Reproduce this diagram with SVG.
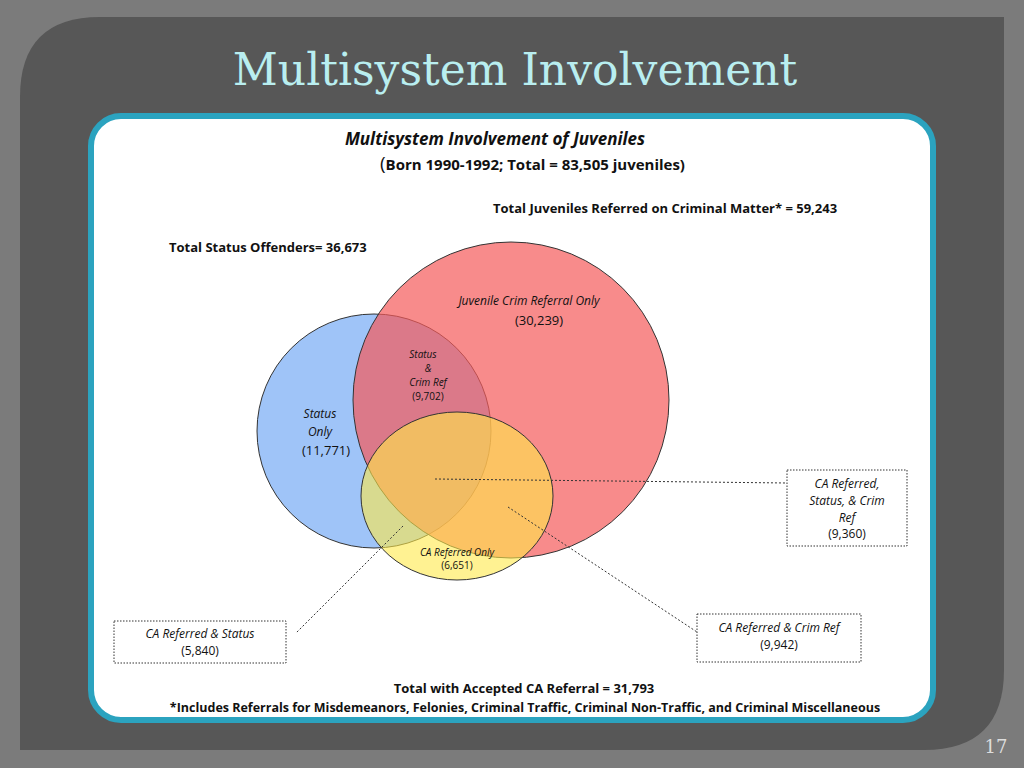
<svg xmlns="http://www.w3.org/2000/svg" width="1024" height="768" viewBox="0 0 1024 768">
<style>
text{font-family:"Open Sans","Liberation Sans",sans-serif;fill:#111}
.b{font-weight:bold;font-size:13px}
.i{font-style:italic;font-size:12px}
.s{font-style:italic;font-size:10px}
.n{font-size:13px}
.box{fill:#fff;stroke:#333;stroke-dasharray:1.5 1.5;stroke-width:1}
.c{fill:none;stroke:#333;stroke-dasharray:2 2;stroke-width:1}
</style>
<rect width="1024" height="768" fill="#7b7b7b"/>
<path d="M100 17 H1004 V670 Q1004 750 924 750 H20 V97 Q20 17 100 17Z" fill="#575757"/>
<text x="515" y="85" text-anchor="middle" style="font-family:'DejaVu Serif','Liberation Serif',serif;font-size:44px;fill:#b9eef0">Multisystem Involvement</text>
<rect x="91" y="116" width="842" height="604" rx="30" fill="#fff" stroke="#2ba3bf" stroke-width="6"/>
<text x="495" y="145" text-anchor="middle" style="font-weight:bold;font-style:italic;font-size:17px">Multisystem Involvement of Juveniles</text>
<text x="380" y="170" style="font-weight:bold;font-size:15px"><tspan style="font-size:19px;font-weight:normal">(</tspan>Born 1990-1992; Total = 83,505 juveniles)</text>
<text x="493" y="213" class="b">Total Juveniles Referred  on Criminal Matter*  = 59,243</text>
<text x="169" y="252" class="b">Total Status Offenders= 36,673</text>
<g id="blue"><circle cx="374" cy="431" r="117" fill="#7fb0f5" fill-opacity="0.75" stroke="#333"/></g>
<g id="red"><ellipse cx="511" cy="400" rx="158" ry="158" fill="#f55a5a" fill-opacity="0.7" stroke="#333"/></g>
<g id="yellow"><ellipse cx="457" cy="496" rx="96" ry="84" fill="#ffe94a" fill-opacity="0.6" stroke="#333"/></g>
<g id="labels">
<text x="529" y="305" text-anchor="middle" class="i">Juvenile Crim Referral Only</text>
<text x="539" y="325" text-anchor="middle" class="n">(30,239)</text>
<text x="423" y="358" text-anchor="middle" class="s">Status</text>
<text x="428" y="372" text-anchor="middle" class="s">&amp;</text>
<text x="428" y="386" text-anchor="middle" class="s">Crim Ref</text>
<text x="428" y="400" text-anchor="middle" style="font-size:10px">(9,702)</text>
<text x="320" y="418" text-anchor="middle" class="i">Status</text>
<text x="320" y="436" text-anchor="middle" class="i">Only</text>
<text x="326" y="455" text-anchor="middle" class="n">(11,771)</text>
<text x="457" y="556" text-anchor="middle" class="s">CA Referred Only</text>
<text x="457" y="569" text-anchor="middle" style="font-size:10px">(6,651)</text>
</g>
<g id="connectors">
<line class="c" x1="435" y1="479" x2="787" y2="483"/>
<line class="c" x1="403" y1="526" x2="296" y2="633"/>
<line class="c" x1="508" y1="507" x2="697" y2="632"/>
</g>
<g id="box1"><rect class="box" x="787" y="470" width="120" height="76"/>
<text x="847" y="488" text-anchor="middle" class="i">CA Referred,</text>
<text x="847" y="505" text-anchor="middle" class="i">Status, &amp; Crim</text>
<text x="847" y="522" text-anchor="middle" class="i">Ref</text>
<text x="847" y="538" text-anchor="middle" style="font-size:12px">(9,360)</text></g>
<g id="box2"><rect class="box" x="114" y="621" width="172" height="42"/>
<text x="200" y="638" text-anchor="middle" class="i">CA Referred &amp; Status</text>
<text x="200" y="655" text-anchor="middle" style="font-size:12px">(5,840)</text></g>
<g id="box3"><rect class="box" x="697" y="614" width="164" height="48"/>
<text x="779" y="632" text-anchor="middle" class="i">CA Referred &amp; Crim Ref</text>
<text x="779" y="649" text-anchor="middle" style="font-size:12px">(9,942)</text></g>
<text x="524" y="693" text-anchor="middle" class="b">Total with Accepted  CA Referral  = 31,793</text>
<text x="525" y="712" text-anchor="middle" style="font-weight:bold;font-size:12.5px">*Includes Referrals for Misdemeanors, Felonies, Criminal Traffic, Criminal Non-Traffic, and Criminal Miscellaneous</text>
<text x="996" y="753" text-anchor="middle" style="font-family:'DejaVu Serif',serif;font-size:18px;fill:#dddddd">17</text>
</svg>
